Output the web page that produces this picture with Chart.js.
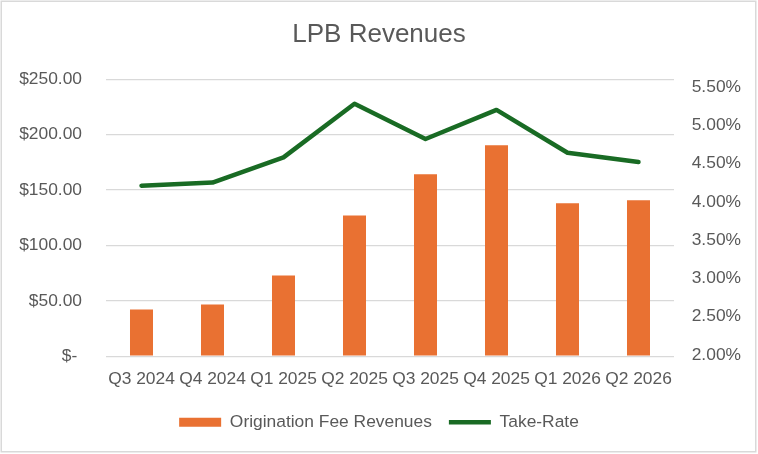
<!DOCTYPE html>
<html>
<head>
<meta charset="utf-8">
<title>LPB Revenues</title>
<script src="https://cdn.jsdelivr.net/npm/chart.js@4/dist/chart.umd.min.js"></script>
<style>
  html, body { margin: 0; padding: 0; background: #fff; }
  canvas { display: block; }
</style>
</head>
<body>
<canvas id="chart" width="758" height="454"></canvas>
<script>
const quarters = ["Q3 2024", "Q4 2024", "Q1 2025", "Q2 2025", "Q3 2025", "Q4 2025", "Q1 2026", "Q2 2026"];
const feeRevenues = [42.2, 46.7, 72.9, 127.1, 164.2, 190.4, 138.0, 140.7];
const takeRate = [4.21, 4.25, 4.58, 5.28, 4.82, 5.20, 4.64, 4.52];
const rateTicks = [2.0, 2.5, 3.0, 3.5, 4.0, 4.5, 5.0, 5.5];

const TEXT = "#595959";
const FONT = "'Liberation Sans', Arial, sans-serif";

// light grey frame round the whole chart, like the Excel chart border
const frame = {
  id: "frame",
  afterDraw(chart) {
    const ctx = chart.ctx;
    ctx.save();
    ctx.strokeStyle = "#d9d9d9";
    ctx.lineWidth = 1.5;
    ctx.strokeRect(1.25, 1.25, 754.5, 450.5);
    ctx.restore();
  },
};

new Chart(document.getElementById("chart"), {
  data: {
    labels: quarters,
    datasets: [
      {
        type: "bar",
        label: "Origination Fee Revenues",
        data: feeRevenues,
        backgroundColor: "#E97132",
        borderWidth: 0,
        barPercentage: 0.324,
        categoryPercentage: 1,
        pointStyle: "rect",
        yAxisID: "y",
      },
      {
        type: "line",
        label: "Take-Rate",
        data: takeRate,
        borderColor: "#196B24",
        backgroundColor: "#196B24",
        borderWidth: 4.5,
        borderCapStyle: "round",
        borderJoinStyle: "round",
        pointRadius: 0,
        pointStyle: "line",
        tension: 0,
        yAxisID: "y1",
      },
    ],
  },
  options: {
    responsive: false,
    devicePixelRatio: 1,
    animation: false,
    layout: { padding: { top: 0, left: 0, right: 0, bottom: 13 } },
    plugins: {
      title: {
        display: true,
        text: "LPB Revenues",
        color: TEXT,
        font: { family: FONT, size: 26, weight: "normal" },
        padding: { top: 19, bottom: 29 },
      },
      legend: {
        position: "bottom",
        labels: {
          color: TEXT,
          font: { family: FONT, size: 17.4 },
          usePointStyle: true,
          pointStyleWidth: 42,
          boxHeight: 9,
          padding: 17,
        },
      },
      tooltip: { enabled: false },
    },
    scales: {
      x: {
        grid: { display: false, drawTicks: false },
        border: { display: false },
        ticks: {
          color: TEXT,
          font: { family: FONT, size: 17.4 },
          padding: 12.6,
          maxRotation: 0,
          autoSkip: false,
        },
        afterFit: (scale) => {
          scale.height -= 5.7;
        },
      },
      y: {
        position: "left",
        min: 0,
        max: 250,
        grid: { color: "#d9d9d9", lineWidth: 1.3, drawTicks: false },
        border: { display: false },
        ticks: {
          stepSize: 50,
          color: TEXT,
          font: { family: FONT, size: 17.4 },
          padding: 24,
          callback: (v) => (v === 0 ? "$- " : "$" + v.toFixed(2)),
        },
        afterFit: (scale) => {
          scale.width = 106;
        },
      },
      y1: {
        position: "right",
        min: 1.982,
        max: 5.601,
        grid: { display: false, drawTicks: false },
        border: { display: false },
        afterBuildTicks: (scale) => {
          scale.ticks = rateTicks.map((v) => ({ value: v }));
        },
        ticks: {
          color: TEXT,
          font: { family: FONT, size: 17.4 },
          padding: 17.7,
          callback: (v) => v.toFixed(2) + "%",
        },
        afterFit: (scale) => {
          scale.width = 84;
        },
      },
    },
  },
  plugins: [frame],
});
</script>
</body>
</html>
